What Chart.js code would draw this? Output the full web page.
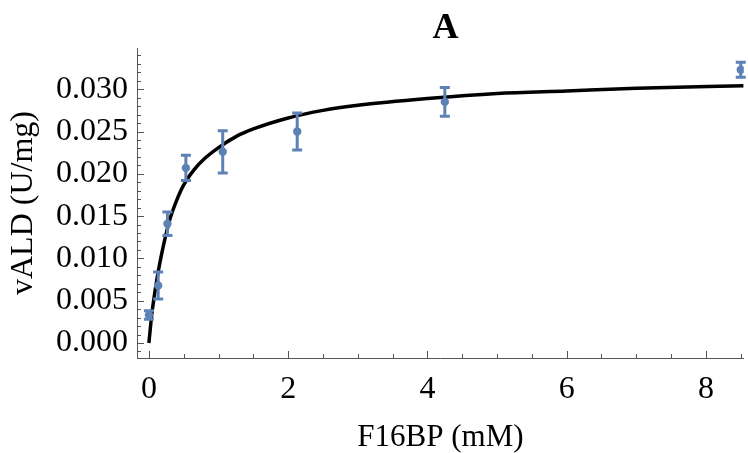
<!DOCTYPE html>
<html>
<head>
<meta charset="utf-8">
<script src="https://cdn.jsdelivr.net/npm/chart.js@4"></script>
<style>
  html, body { margin: 0; padding: 0; background: #fff; }
  #wrap { width: 748px; height: 453px; }
</style>
</head>
<body>
<div id="wrap"><canvas id="kineticsChart" width="748" height="453"></canvas></div>
<script>
// measured points (F16BP mM, vALD U/mg, error)
const concentrations = [0, 0.133, 0.266, 0.531, 1.06, 2.13, 4.25, 8.5];
const rates = [0.0033, 0.0068, 0.0141, 0.0207, 0.0226, 0.0250, 0.0285, 0.0323];
const rateErrors = [0.0005, 0.0016, 0.0014, 0.0015, 0.0025, 0.0022, 0.0017, 0.0009];

// fitted curve
const fitX = [0, 0.04, 0.08, 0.12, 0.17, 0.23, 0.3, 0.4, 0.5, 0.65, 0.8, 1.0, 1.25, 1.5, 2.0, 2.5, 3.0, 4.0, 5.0, 6.0, 7.0, 8.54];
const fitY = [0, 0.0033, 0.0057, 0.0078, 0.0100, 0.0123, 0.0146, 0.0169, 0.0187, 0.0205, 0.0218, 0.0231, 0.0244, 0.0253,
  0.0266, 0.0275, 0.0281, 0.0289, 0.0295, 0.0298, 0.0301, 0.0304];

const xTicks = [0, 2, 4, 6, 8];
const yTicks = [0, 0.005, 0.010, 0.015, 0.020, 0.025, 0.030];
const panelTitle = 'A';

const blue = '#5e81b5';
const axisColor = '#555555';
const serif = "'Liberation Serif', 'Times New Roman', serif";

// error bars drawn through the scales
const errorBars = {
  id: 'errorBars',
  afterDatasetsDraw(chart) {
    const ctx = chart.ctx;
    const xs = chart.scales.x, ys = chart.scales.y;
    ctx.save();
    ctx.strokeStyle = blue;
    ctx.lineWidth = 3;
    concentrations.forEach((c, i) => {
      const px = xs.getPixelForValue(c);
      const top = ys.getPixelForValue(rates[i] + rateErrors[i]);
      const bot = ys.getPixelForValue(rates[i] - rateErrors[i]);
      ctx.beginPath();
      ctx.moveTo(px, top); ctx.lineTo(px, bot);
      ctx.moveTo(px - 5, top); ctx.lineTo(px + 5, top);
      ctx.moveTo(px - 5, bot); ctx.lineTo(px + 5, bot);
      ctx.stroke();
    });
    ctx.restore();
  }
};

// inward ticks like the original frame, plus the panel letter over the plot
const frameTicks = {
  id: 'frameTicks',
  afterDraw(chart) {
    const ctx = chart.ctx;
    const xs = chart.scales.x, ys = chart.scales.y;
    const area = chart.chartArea;
    ctx.save();
    ctx.strokeStyle = axisColor;
    ctx.lineWidth = 1;
    ctx.beginPath();
    for (let k = -1; k <= 34; k++) {
      const v = k / 1000;
      const major = k % 5 === 0 && k >= 0 && k <= 30;
      const py = Math.round(ys.getPixelForValue(v)) + 0.5;
      ctx.moveTo(area.left, py);
      ctx.lineTo(area.left + (major ? 7 : 4), py);
    }
    for (let k = 0; k <= 17; k++) {
      const v = k * 0.5;
      const major = k % 4 === 0;
      const px = Math.round(xs.getPixelForValue(v)) + 0.5;
      ctx.moveTo(px, area.bottom);
      ctx.lineTo(px, area.bottom - (major ? 7 : 4));
    }
    ctx.stroke();

    ctx.fillStyle = '#000';
    ctx.font = 'bold 36px ' + serif;
    ctx.textAlign = 'center';
    ctx.textBaseline = 'alphabetic';
    ctx.fillText(panelTitle, (area.left + area.right) / 2 + 5, 38);
    ctx.restore();
  }
};

const ctx = document.getElementById('kineticsChart').getContext('2d');
new Chart(ctx, {
  type: 'scatter',
  data: {
    datasets: [
      {
        label: 'measured',
        data: concentrations.map((c, i) => ({ x: c, y: rates[i] })),
        pointRadius: 4.2,
        pointBackgroundColor: blue,
        pointBorderWidth: 0,
        showLine: false
      },
      {
        label: 'fit',
        data: fitX.map((x, i) => ({ x: x, y: fitY[i] })),
        showLine: true,
        borderColor: '#000',
        borderWidth: 3.5,
        pointRadius: 0,
        cubicInterpolationMode: 'monotone'
      }
    ]
  },
  options: {
    responsive: false,
    animation: false,
    events: [],
    layout: { padding: { top: 48, left: 0, right: 0, bottom: 0 } },
    plugins: {
      legend: { display: false },
      tooltip: { enabled: false },
      title: { display: false }
    },
    scales: {
      x: {
        type: 'linear',
        min: -0.171,
        max: 8.544,
        afterBuildTicks: s => { s.ticks = xTicks.map(v => ({ value: v })); },
        afterFit: s => { s.height = 95; },
        grid: { drawOnChartArea: false, drawTicks: false },
        border: { color: axisColor, width: 1 },
        ticks: {
          color: '#000',
          padding: 12,
          maxRotation: 0,
          font: { family: serif, size: 32 },
          callback: v => String(v)
        },
        title: {
          display: true,
          text: 'F16BP (mM)',
          color: '#000',
          font: { family: serif, size: 31, lineHeight: 1 },
          padding: { top: 0, bottom: 0 }
        }
      },
      y: {
        type: 'linear',
        min: -0.00177,
        max: 0.03487,
        afterBuildTicks: s => { s.ticks = yTicks.map(v => ({ value: v })); },
        afterFit: s => { s.width = 137; },
        grid: { drawOnChartArea: false, drawTicks: false },
        border: { color: axisColor, width: 1 },
        ticks: {
          color: '#000',
          padding: 9,
          font: { family: serif, size: 32 },
          callback: v => Number(v).toFixed(3)
        },
        title: {
          display: true,
          text: 'vALD (U/mg)',
          color: '#000',
          font: { family: serif, size: 32, lineHeight: 1 },
          padding: { top: 8, bottom: 0 }
        }
      }
    }
  },
  plugins: [errorBars, frameTicks]
});
</script>
</body>
</html>
